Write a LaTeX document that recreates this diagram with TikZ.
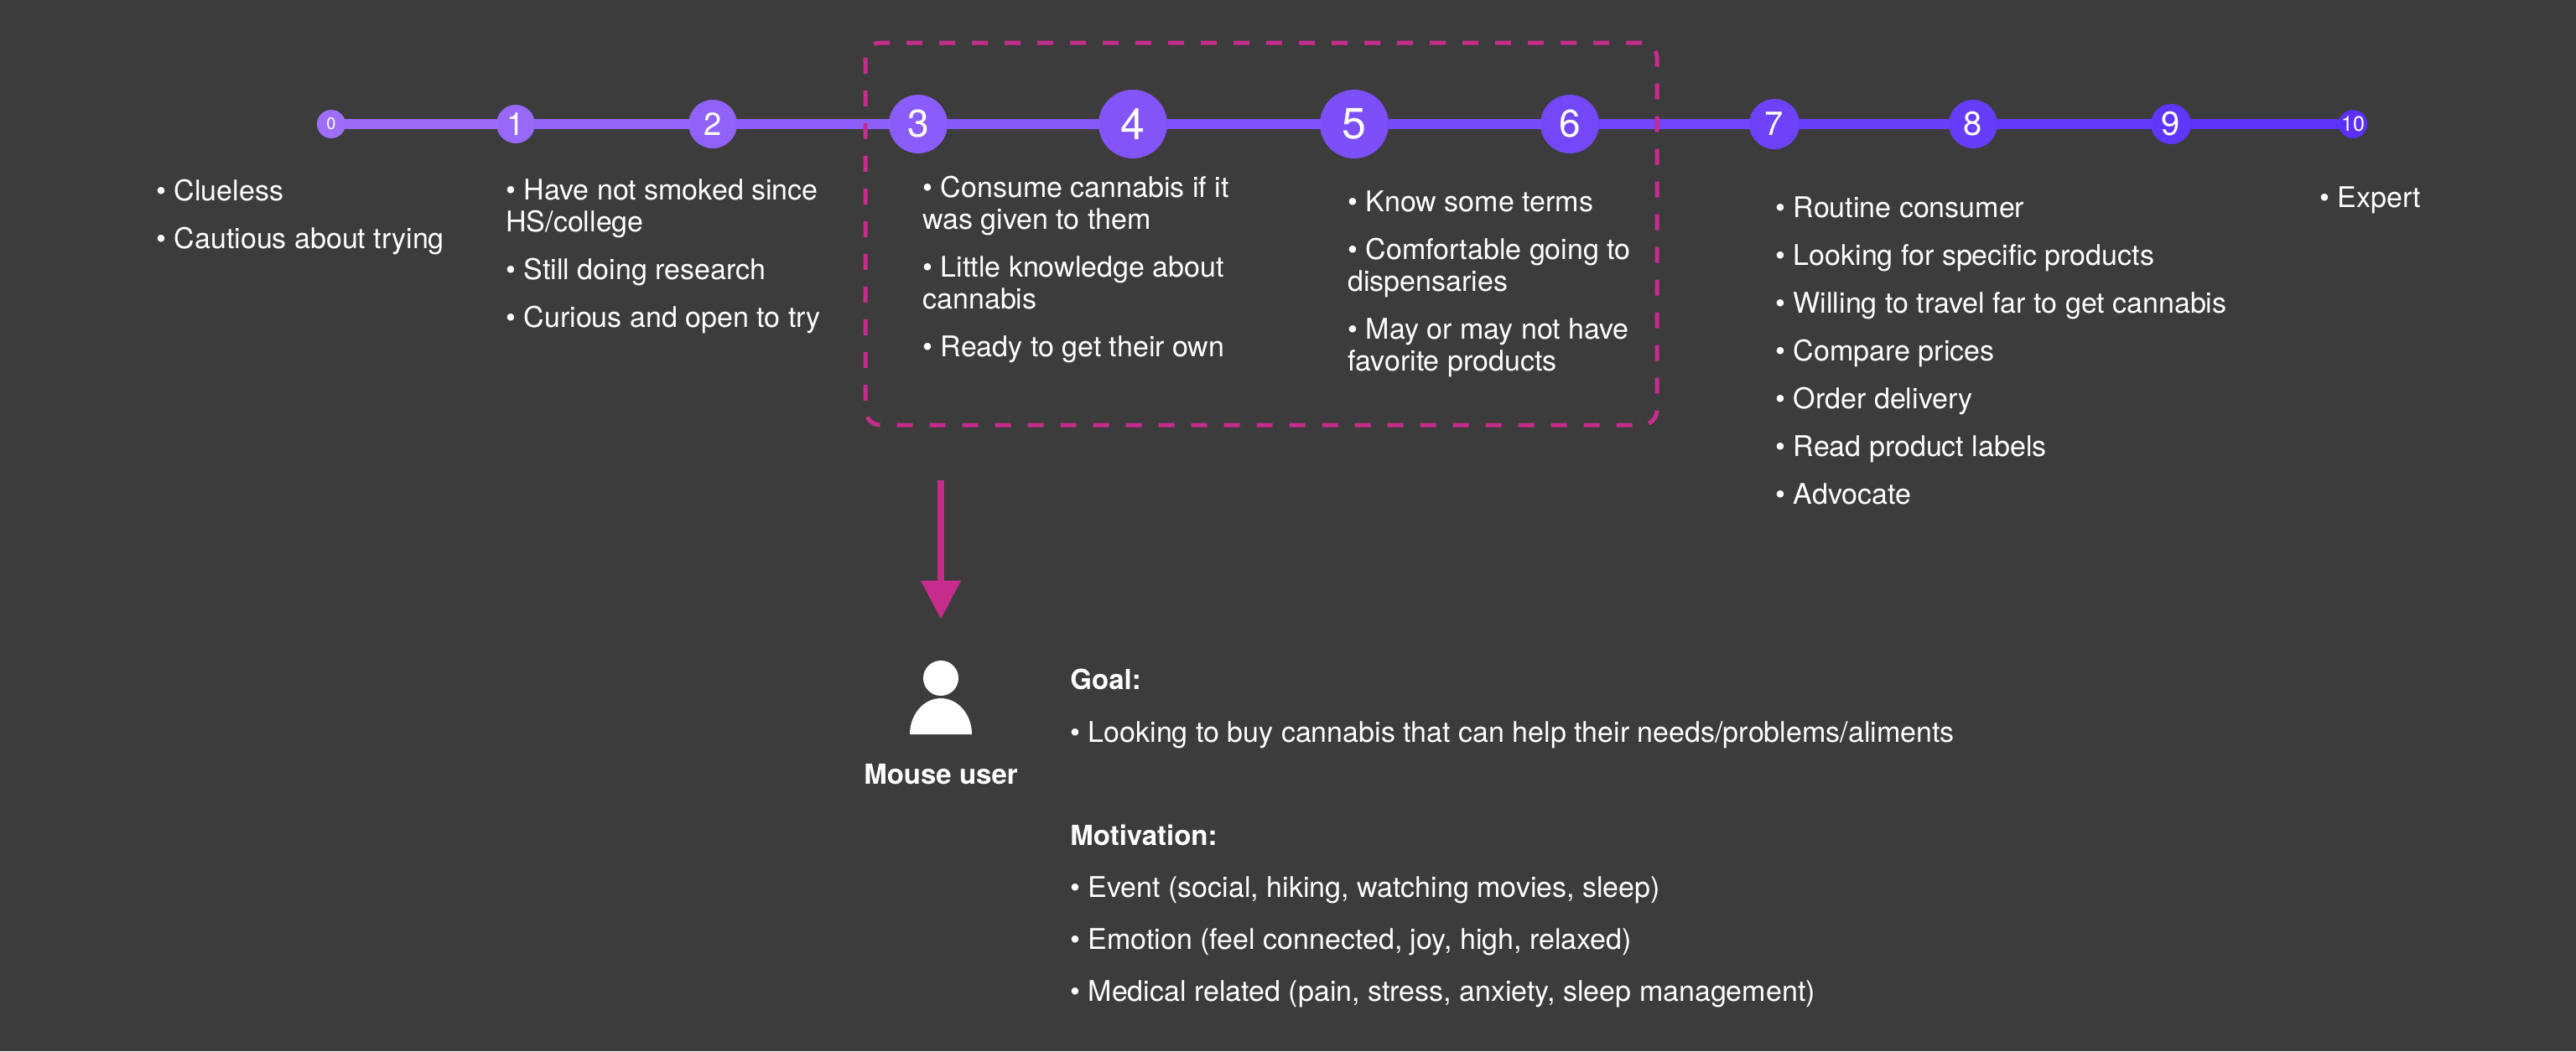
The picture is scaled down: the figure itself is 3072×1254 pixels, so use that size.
\documentclass[tikz,border=0pt]{standalone}
\usepackage{fontspec}
\setmainfont{TeX Gyre Heros}
\usepackage{tikz}
\usetikzlibrary{shapes.geometric, arrows.meta}
\definecolor{canvas}{RGB}{60,60,60}
\definecolor{tlleft}{RGB}{158,110,248}
\definecolor{tlright}{RGB}{90,48,250}
\definecolor{hilite}{RGB}{198,44,140}
\tikzstyle{stage} = [circle, inner sep=0pt, text=white]
\tikzstyle{note} = [text=white, anchor=base west, align=left, inner sep=0pt, font=\fontsize{17}{19}\selectfont]
\tikzstyle{heading} = [note, font=\fontsize{16.5}{19}\selectfont\bfseries]
\tikzstyle{pinkarrow} = [line width=4pt, draw=hilite, -{Triangle[width=23pt,length=23pt]}]
\tikzstyle{hilitebox} = [draw=hilite, line width=2.5pt, dash pattern=on 9.5pt off 10pt, rounded corners=9pt]

\begin{document}
\begin{tikzpicture}[x=0.5pt, y=-0.5pt]
\fill[canvas] (0,0) rectangle (3072,1254);
\useasboundingbox (0,0) rectangle (3072,1254);

% timeline 0..10
\foreach \n/\x/\r/\f [remember=\n as \last (initially 0), remember=\p as \lastp (initially 0)] in
  {0/395/17/10, 1/615/23/19, 2/850/29/19, 3/1095/35/23, 4/1351/41/26, 5/1615/41/26,
   6/1872/35/23, 7/2116/30/20, 8/2353/29/20, 9/2589/24/20, 10/2806/17/12.5}
{
  \pgfmathsetmacro\p{(\x-395)/24.11}
  \node[stage, minimum size=\r pt, fill=tlright!\p!tlleft, font=\fontsize{\f}{\f}\selectfont] (s\n) at (\x,148) {\n};
  \ifnum\n>0
    \pgfmathsetmacro\q{(\p+\lastp)/2}
    \draw[line width=6pt, draw=tlright!\q!tlleft, shorten <=-1pt, shorten >=-1pt] (s\last) -- (s\n);
  \fi
}

\node[hilitebox, minimum width=472pt, minimum height=228pt] (focus) at (1504,279) {};

% notes (placed at the baseline of their last line)
\node[note] (n0) at (186,296) {• Clueless\\[9.5pt]• Cautious about trying};
\node[note] (n1) at (603,390) {• Have not smoked since\\HS/college\\[9.5pt]• Still doing research\\[9.5pt]• Curious and open to try};
\node[note] (n3) at (1100,425) {• Consume cannabis if it\\was given to them\\[9.5pt]• Little knowledge about\\cannabis\\[9.5pt]• Ready to get their own};
\node[note] (n5) at (1607,442) {• Know some terms\\[9.5pt]• Comfortable going to\\dispensaries\\[9.5pt]• May or may not have\\favorite products};
\node[note] (n7) at (2117,601) {• Routine consumer\\[9.5pt]• Looking for specific products\\[9.5pt]• Willing to travel far to get cannabis\\[9.5pt]• Compare prices\\[9.5pt]• Order delivery\\[9.5pt]• Read product labels\\[9.5pt]• Advocate};
\node[note] (n10) at (2766,247) {• Expert};

% persona
\node[circle, fill=white, inner sep=0pt, minimum size=21pt] (head) at (1122,809) {};
\fill[white] (1085,876) arc[start angle=180, end angle=360, x radius=37, y radius=43] -- cycle;
\node[heading, anchor=base] (mouse) at (1122,935) {Mouse user};
\coordinate (arrowtop) at (1122,573);
\draw[pinkarrow, shorten >=24.5pt] (arrowtop) -- (head);

\node[heading] (goal) at (1276,822) {Goal:};
\node[note] (goaltext) at (1276,885) {• Looking to buy cannabis that can help their needs/problems/aliments};
\node[heading] (motiv) at (1276,1008) {Motivation:};
\node[note] (motivtext) at (1276,1194) {• Event (social, hiking, watching movies, sleep)\\[12pt]• Emotion (feel connected, joy, high, relaxed)\\[12pt]• Medical related (pain, stress, anxiety, sleep management)};
\end{tikzpicture}
\end{document}
